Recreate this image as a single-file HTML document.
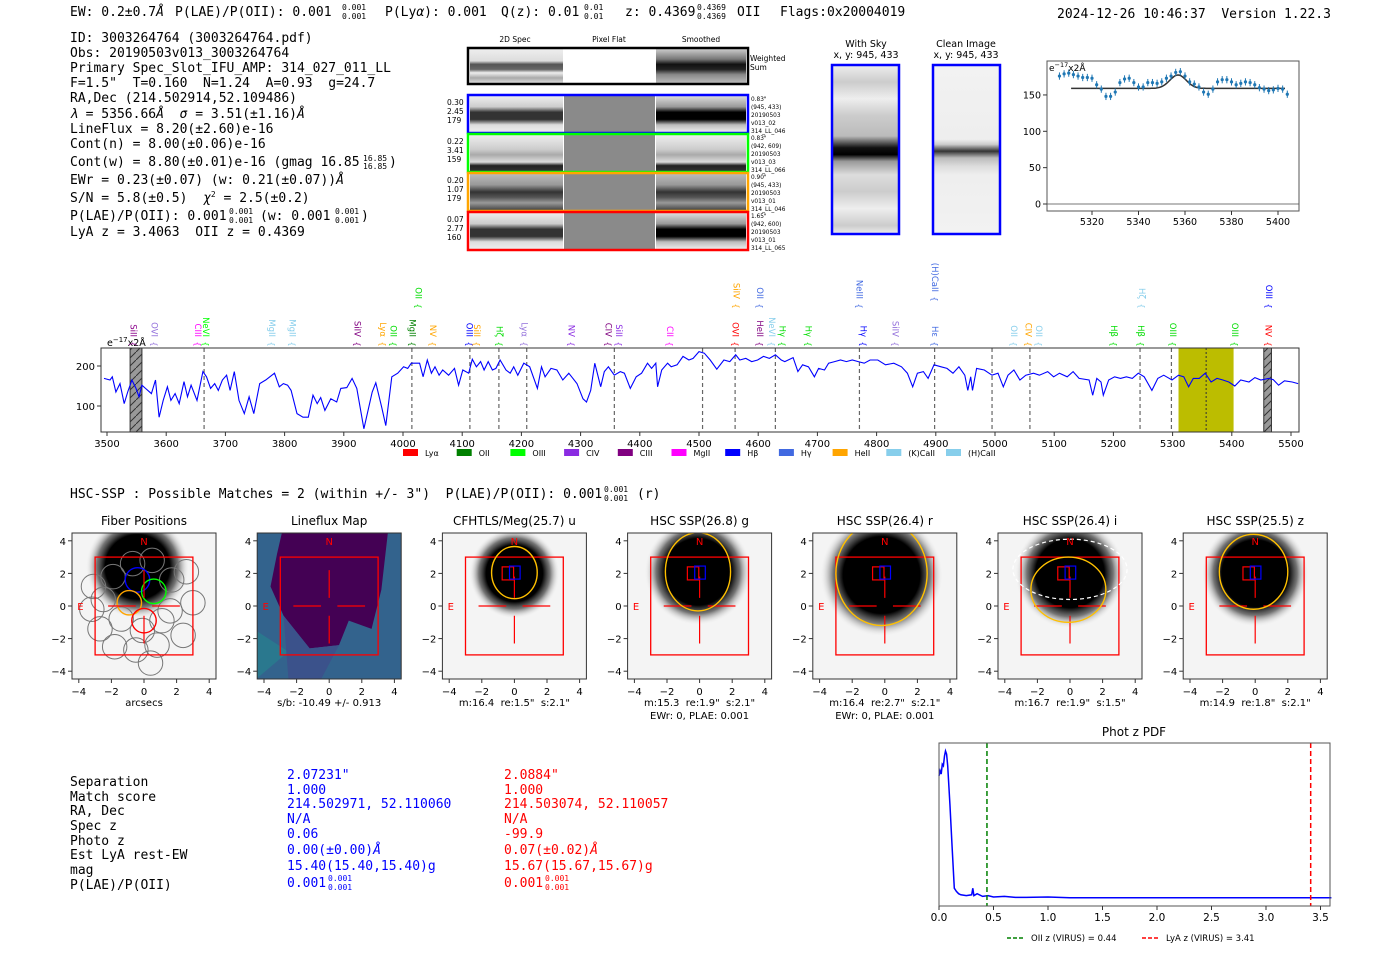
<!DOCTYPE html>
<html><head><meta charset="utf-8"><style>
html,body{margin:0;padding:0;background:#fff;}
svg{display:block;}
text{white-space:pre;}
.m{font-family:"DejaVu Sans Mono","Liberation Mono",monospace;font-size:13px;}
.s{font-family:"DejaVu Sans","Liberation Sans",sans-serif;}
</style></head><body>
<svg id="root" xml:space="preserve" width="1400" height="953" viewBox="0 0 1400 953" xmlns="http://www.w3.org/2000/svg">
<defs>
<radialGradient id="blob"><stop offset="0" stop-color="#000"/><stop offset="0.62" stop-color="#000"/><stop offset="0.78" stop-color="#555" stop-opacity="0.8"/><stop offset="1" stop-color="#fff" stop-opacity="0"/></radialGradient>
<linearGradient id="ws2d" x1="0" y1="0" x2="0" y2="1"><stop offset="0" stop-color="#eee"/><stop offset="0.35" stop-color="#ddd"/><stop offset="0.45" stop-color="#555"/><stop offset="0.6" stop-color="#666"/><stop offset="0.7" stop-color="#eee"/><stop offset="0.85" stop-color="#aaa"/><stop offset="1" stop-color="#ddd"/></linearGradient>
<linearGradient id="wssm" x1="0" y1="0" x2="0" y2="1"><stop offset="0" stop-color="#ccc"/><stop offset="0.3" stop-color="#777"/><stop offset="0.45" stop-color="#111"/><stop offset="0.6" stop-color="#222"/><stop offset="0.75" stop-color="#888"/><stop offset="1" stop-color="#bbb"/></linearGradient>
<linearGradient id="row2d" x1="0" y1="0" x2="0" y2="1"><stop offset="0" stop-color="#eee"/><stop offset="0.3" stop-color="#ccc"/><stop offset="0.45" stop-color="#333"/><stop offset="0.65" stop-color="#333"/><stop offset="0.8" stop-color="#ddd"/><stop offset="1" stop-color="#eee"/></linearGradient>
<linearGradient id="rowsm" x1="0" y1="0" x2="0" y2="1"><stop offset="0" stop-color="#ddd"/><stop offset="0.3" stop-color="#999"/><stop offset="0.45" stop-color="#000"/><stop offset="0.65" stop-color="#000"/><stop offset="0.8" stop-color="#bbb"/><stop offset="1" stop-color="#eee"/></linearGradient>
<linearGradient id="rowg" x1="0" y1="0" x2="0" y2="1"><stop offset="0" stop-color="#eee"/><stop offset="0.4" stop-color="#ccc"/><stop offset="0.55" stop-color="#aaa"/><stop offset="0.75" stop-color="#ddd"/><stop offset="0.85" stop-color="#222"/><stop offset="1" stop-color="#333"/></linearGradient>
<linearGradient id="rowo" x1="0" y1="0" x2="0" y2="1"><stop offset="0" stop-color="#bbb"/><stop offset="0.3" stop-color="#999"/><stop offset="0.5" stop-color="#333"/><stop offset="0.65" stop-color="#555"/><stop offset="0.8" stop-color="#999"/><stop offset="1" stop-color="#444"/></linearGradient>
<linearGradient id="sky" x1="0" y1="0" x2="0" y2="1"><stop offset="0" stop-color="#eee"/><stop offset="0.1" stop-color="#ccc"/><stop offset="0.2" stop-color="#eee"/><stop offset="0.3" stop-color="#ccc"/><stop offset="0.42" stop-color="#bbb"/><stop offset="0.49" stop-color="#111"/><stop offset="0.53" stop-color="#000"/><stop offset="0.57" stop-color="#999"/><stop offset="0.65" stop-color="#ddd"/><stop offset="0.75" stop-color="#ccc"/><stop offset="0.85" stop-color="#eee"/><stop offset="0.95" stop-color="#ccc"/><stop offset="1" stop-color="#eee"/></linearGradient>
<linearGradient id="clean" x1="0" y1="0" x2="0" y2="1"><stop offset="0" stop-color="#f2f2f2"/><stop offset="0.44" stop-color="#eee"/><stop offset="0.47" stop-color="#ccc"/><stop offset="0.51" stop-color="#333"/><stop offset="0.55" stop-color="#bbb"/><stop offset="0.6" stop-color="#ddd"/><stop offset="0.65" stop-color="#eee"/><stop offset="1" stop-color="#f2f2f2"/></linearGradient>
<pattern id="hatch" width="8" height="8" patternUnits="userSpaceOnUse"><rect width="8" height="8" fill="#999"/><path d="M0,8 L8,0" stroke="#333" stroke-width="1"/></pattern>
</defs>

<g class="m">
<text x="70" y="16">EW: 0.2±0.7<tspan font-style="italic">Å</tspan></text>
<text x="175" y="16">P(LAE)/P(OII): 0.001</text>
<text x="342" y="10" font-size="8">0.001</text>
<text x="342" y="19" font-size="8">0.001</text>
<text x="385" y="16">P(Ly<tspan font-style="italic">α</tspan>): 0.001</text>
<text x="501" y="16">Q(z): 0.01</text>
<text x="584" y="10" font-size="8">0.01</text>
<text x="584" y="19" font-size="8">0.01</text>
<text x="625" y="16">z: 0.4369</text>
<text x="697" y="10" font-size="8">0.4369</text>
<text x="697" y="19" font-size="8">0.4369</text>
<text x="737" y="16">OII</text>
<text x="780" y="16">Flags:0x20004019</text>
<text x="1057" y="18">2024-12-26 10:46:37  Version 1.22.3</text>
</g>

<g class="m">
<text x="70" y="42">ID: 3003264764 (3003264764.pdf)</text>
<text x="70" y="57">Obs: 20190503v013_3003264764</text>
<text x="70" y="72">Primary Spec_Slot_IFU_AMP: 314_027_011_LL</text>
<text x="70" y="87">F=1.5"  T=0.160  N=1.24  A=0.93  g=24.7</text>
<text x="70" y="102">RA,Dec (214.502914,52.109486)</text>
<text x="70" y="118"><tspan font-style="italic">λ</tspan> = 5356.66<tspan font-style="italic">Å</tspan>  <tspan font-style="italic">σ</tspan> = 3.51(±1.16)<tspan font-style="italic">Å</tspan></text>
<text x="70" y="133">LineFlux = 8.20(±2.60)e-16</text>
<text x="70" y="148">Cont(n) = 8.00(±0.06)e-16</text>
<text x="70" y="166">Cont(w) = 8.80(±0.01)e-16 (gmag 16.85</text>
<text x="363" y="161" font-size="8">16.85</text>
<text x="363" y="169" font-size="8">16.85</text>
<text x="389" y="166">)</text>
<text x="70" y="184">EWr = 0.23(±0.07) (w: 0.21(±0.07))<tspan font-style="italic">Å</tspan></text>
<text x="70" y="202">S/N = 5.8(±0.5)  <tspan font-style="italic">χ</tspan><tspan font-size="8" dy="-5">2</tspan><tspan dy="5"> = 2.5(±0.2)</tspan></text>
<text x="70" y="220">P(LAE)/P(OII): 0.001</text>
<text x="229" y="214" font-size="8">0.001</text>
<text x="229" y="223" font-size="8">0.001</text>
<text x="260" y="220">(w: 0.001</text>
<text x="335" y="214" font-size="8">0.001</text>
<text x="335" y="223" font-size="8">0.001</text>
<text x="361" y="220">)</text>
<text x="70" y="236">LyA z = 3.4063  OII z = 0.4369</text>
</g>

<g class="s">
<text x="515" y="42" font-size="7.5" text-anchor="middle">2D Spec</text>
<text x="609" y="42" font-size="7.5" text-anchor="middle">Pixel Flat</text>
<text x="701" y="42" font-size="7.5" text-anchor="middle">Smoothed</text>
<rect x="470" y="49" width="93" height="34" fill="url(#ws2d)"/>
<rect x="656" y="49" width="90" height="34" fill="url(#wssm)"/>
<rect x="468" y="48" width="280" height="36" fill="none" stroke="#000" stroke-width="2.5"/>
<text x="750" y="61" font-size="7.5">Weighted</text>
<text x="750" y="70" font-size="7.5">Sum</text>
</g>
<g id="cutrows" class="s"></g>

<g class="s">
<text x="866" y="47" font-size="9.5" text-anchor="middle">With Sky</text>
<text x="866" y="58" font-size="9.5" text-anchor="middle">x, y: 945, 433</text>
<rect x="832" y="65" width="67" height="169" fill="url(#sky)" stroke="#0000ff" stroke-width="2.5"/>
<text x="966" y="47" font-size="9.5" text-anchor="middle">Clean Image</text>
<text x="966" y="58" font-size="9.5" text-anchor="middle">x, y: 945, 433</text>
<rect x="933" y="65" width="67" height="169" fill="url(#clean)" stroke="#0000ff" stroke-width="2.5"/>
</g>

<g id="fitplot" class="s"></g>
<g id="spec" class="s"></g>

<g class="m">
<text x="70" y="498">HSC-SSP : Possible Matches = 2 (within +/- 3")  P(LAE)/P(OII): 0.001</text>
<text x="604" y="492" style="font-size:8px">0.001</text>
<text x="604" y="501" style="font-size:8px">0.001</text>
<text x="637" y="498">(r)</text>
</g>

<g id="cutouts" class="s"></g>

<g class="m" font-size="12.5">
<text x="70" y="786">Separation</text>
<text x="70" y="801">Match score</text>
<text x="70" y="815">RA, Dec</text>
<text x="70" y="830">Spec z</text>
<text x="70" y="845">Photo z</text>
<text x="70" y="859">Est LyA rest-EW</text>
<text x="70" y="874">mag</text>
<text x="70" y="889">P(LAE)/P(OII)</text>
<g fill="#0000ff">
<text x="287" y="779">2.07231"</text>
<text x="287" y="794">1.000</text>
<text x="287" y="808">214.502971, 52.110060</text>
<text x="287" y="823">N/A</text>
<text x="287" y="838">0.06</text>
<text x="287" y="854">0.00(±0.00)<tspan font-style="italic">Å</tspan></text>
<text x="287" y="870">15.40(15.40,15.40)g</text>
<text x="287" y="887">0.001</text>
<text x="328" y="881" font-size="8">0.001</text>
<text x="328" y="890" font-size="8">0.001</text>
</g>
<g fill="#ff0000">
<text x="504" y="779">2.0884"</text>
<text x="504" y="794">1.000</text>
<text x="504" y="808">214.503074, 52.110057</text>
<text x="504" y="823">N/A</text>
<text x="504" y="838">-99.9</text>
<text x="504" y="854">0.07(±0.02)<tspan font-style="italic">Å</tspan></text>
<text x="504" y="870">15.67(15.67,15.67)g</text>
<text x="504" y="887">0.001</text>
<text x="545" y="881" font-size="8">0.001</text>
<text x="545" y="890" font-size="8">0.001</text>
</g>
</g>

<g id="pdf" class="s"></g>
</svg>
<script>
const NS='http://www.w3.org/2000/svg';
function add(parent, tag, attrs, name, text){
  const el=document.createElementNS(NS,tag);
  for(const k in attrs) el.setAttribute(k,attrs[k]);
  
  
  if(text!==undefined) el.textContent=text;
  parent.appendChild(el); return el;
}

const specWave=[3495,3505,3509,3515,3522,3529,3535,3542,3549,3554,3559,3565,3575,3582,3588,3595,3602,3608,3615,3622,3630,3636,3642,3652,3662,3668,3675,3682,3688,3695,3702,3708,3715,3723,3732,3740,3748,3758,3768,3783,3791,3798,3805,3811,3821,3831,3840,3848,3855,3861,3868,3878,3888,3895,3905,3914,3922,3934,3948,3954,3964,3971,3981,3991,4001,4008,4014,4028,4034,4041,4048,4054,4061,4067,4077,4087,4094,4101,4111,4117,4124,4131,4137,4144,4151,4157,4164,4174,4181,4187,4194,4204,4214,4227,4234,4240,4250,4260,4270,4280,4294,4304,4310,4317,4324,4334,4340,4347,4357,4367,4374,4384,4394,4403,4413,4420,4427,4430,4437,4447,4453,4463,4473,4483,4490,4500,4509,4519,4530,4542,4552,4562,4569,4579,4589,4599,4609,4619,4629,4639,4645,4659,4667,4675,4685,4695,4702,4712,4719,4729,4739,4749,4759,4769,4779,4789,4802,4815,4829,4842,4852,4861,4869,4879,4887,4897,4909,4919,4929,4939,4949,4954,4959,4962,4969,4982,4995,5005,5014,5022,5032,5042,5052,5065,5075,5089,5099,5109,5122,5132,5142,5159,5165,5172,5179,5183,5192,5202,5212,5222,5232,5242,5252,5265,5275,5285,5299,5310,5319,5327,5335,5345,5355,5365,5375,5385,5395,5405,5415,5429,5439,5449,5462,5470,5479,5489,5502,5512];
const specFlux=[169,165,173,135,156,106,135,165,144,123,152,144,131,165,72,114,148,114,131,106,161,123,152,114,186,173,144,156,139,165,177,139,186,114,81,123,81,156,165,182,148,156,152,139,81,72,72,127,106,121,89,118,110,144,146,169,144,43,135,158,97,51,173,182,198,194,207,207,173,215,182,198,177,190,177,194,152,190,182,217,198,211,190,211,190,194,215,190,182,198,177,207,198,144,198,173,194,190,165,182,156,118,110,139,207,148,186,198,177,186,182,144,173,182,207,194,207,148,190,207,198,203,224,215,219,236,232,215,192,215,211,228,215,219,211,215,224,219,228,215,211,221,186,203,198,173,194,190,207,211,215,211,215,211,207,215,215,203,207,198,182,148,182,186,169,203,198,194,182,198,177,139,173,139,194,190,177,182,148,177,190,165,177,182,177,186,173,182,173,186,169,165,127,169,160,127,165,173,169,173,169,182,173,139,169,177,165,177,173,148,169,169,182,160,169,165,160,150,165,160,171,165,169,166,152,163,160,156];
const specXTicks=[3500,3600,3700,3800,3900,4000,4100,4200,4300,4400,4500,4600,4700,4800,4900,5000,5100,5200,5300,5400,5500];
const specYTicks=[100,200];
const specDashed=[3664,4015,4113,4162,4209,4357,4506,4561,4629,4771,4898,4995,5059,5245,5298];
const specCenter=[5356.66];
const specBand=[5310,5403];
const specMasks=[[3539,3559],[5454,5467]];
const lineLabels=[
 [3545,'SiII','#8b008b',0],[3580,'OVI','#9370db',0],[3654,'CIII','#ff00ff',0],[3667,'NeVI','#00ff00',0],
 [3779,'MgII','#87ceeb',0],[3813,'MgII','#87ceeb',0],[3923,'SiIV','#800080',0],[3966,'Lyα','#ffa500',0],
 [3984,'OII','#00dd00',0],[4016,'MgII','#008000',0],[4051,'NV','#ffa500',0],[4026,'OII','#00dd00',1],
 [4112,'OIII','#0000ff',0],[4125,'SiII','#ffa500',0],[4163,'Hζ','#00dd00',0],[4205,'Lyα','#9370db',0],
 [4285,'NV','#8a2be2',0],[4347,'CIV','#800080',0],[4365,'SiII','#8a2be2',0],[4451,'CII','#ff00ff',0],
 [4562,'OVI','#ff0000',0],[4563,'SiIV','#ffa500',1],[4603,'HeII','#800080',0],[4603,'OII','#4169e1',1],
 [4623,'NeVI','#87ceeb',0],[4641,'Hγ','#00dd00',0],[4685,'Hγ','#00dd00',0],[4778,'Hγ','#0000ff',0],
 [4771,'NeIII','#4169e1',1],[4832,'SiIV','#9370db',0],[4899,'Hε','#4169e1',0],[4899,'(H)CaII','#4169e1',2],
 [5032,'OII','#87ceeb',0],[5057,'CIV','#ffa500',0],[5074,'OII','#87ceeb',0],[5201,'Hβ','#00dd00',0],
 [5247,'Hβ','#00dd00',0],[5248,'Hζ','#87ceeb',1],[5301,'OIII','#00dd00',0],[5405,'OIII','#00dd00',0],
 [5462,'NV','#ff0000',0],[5463,'OIII','#0000ff',1]];
const legendNames=['Lyα','OII','OIII','CIV','CIII','MgII','Hβ','Hγ','HeII','(K)CaII','(H)CaII'];
const legendColors=['#ff0000','#008000','#00ff00','#8a2be2','#800080','#ff00ff','#0000ff','#4169e1','#ffa500','#87ceeb','#87ceeb'];

function xS(w){return 107+(w-3500)*0.592;}
function yS(v){return 366+(200-v)*0.4;}
(function(){
 const g=document.getElementById('spec');
 const L=101,R=1299,T=348,B=432;
 add(g,'rect',{x:xS(specBand[0]),y:T,width:xS(specBand[1])-xS(specBand[0]),height:B-T,fill:'#bcbd00'},'emission-line-band');
 specMasks.forEach(m=>{add(g,'rect',{x:xS(m[0]),y:T,width:xS(m[1])-xS(m[0]),height:B-T,fill:'url(#hatch)',stroke:'#333','stroke-width':1},'masked-region');});
 specDashed.forEach(w=>{add(g,'line',{x1:xS(w),x2:xS(w),y1:T,y2:B,stroke:'#666','stroke-width':1.2,'stroke-dasharray':'4,3'},'line-marker');});
 specCenter.forEach(w=>{add(g,'line',{x1:xS(w),x2:xS(w),y1:T,y2:B,stroke:'#333','stroke-width':1,'stroke-dasharray':'2,2'},'line-center-marker');});
 let d='';
 for(let i=0;i<specWave.length;i++){d+=(i?'L':'M')+xS(specWave[i]).toFixed(1)+','+yS(specFlux[i]).toFixed(1);}
 add(g,'path',{d:d,fill:'none',stroke:'#0000ff','stroke-width':1.1},'spectrum-line');
 add(g,'rect',{x:L,y:T,width:R-L,height:B-T,fill:'none',stroke:'#333','stroke-width':1},'spectrum-frame');
 specXTicks.forEach(t=>{
  add(g,'line',{x1:xS(t),x2:xS(t),y1:B,y2:B+4,stroke:'#333'},'x-tick');
  add(g,'text',{x:xS(t),y:B+15,'font-size':10,'text-anchor':'middle'},'x-tick-label',String(t));
 });
 specYTicks.forEach(t=>{
  add(g,'line',{x1:L-4,x2:L,y1:yS(t),y2:yS(t),stroke:'#333'},'y-tick');
  add(g,'text',{x:L-6,y:yS(t)+4,'font-size':10,'text-anchor':'end'},'y-tick-label',String(t));
 });
 const u=add(g,'text',{x:107,y:346,'font-size':9.5},'y-unit-label','e');
 add(u,'tspan',{dy:-4,'font-size':7},'unit-exp','−17');
 add(u,'tspan',{dy:4},'unit-rest','x2Å');
 lineLabels.forEach(l=>{
  const x=xS(l[0]);
  const yEnd=[337,299,292][l[3]];
  add(g,'text',{x:x,y:yEnd,'font-size':8.5,fill:l[2],'text-anchor':'end',transform:'rotate(90 '+x+' '+yEnd+')',dy:3},'line-id-label',l[1]);
  const by=yEnd+7;
  add(g,'text',{x:x,y:by,'font-size':8,fill:l[2],'text-anchor':'middle',transform:'rotate(90 '+x+' '+by+')',dy:3},'line-id-brace','{');
 });
 legendNames.forEach((n,i)=>{
  const x=403+i*53.7+(i>=10?6:0);
  add(g,'rect',{x:x,y:449,width:15,height:7,fill:legendColors[i]},'legend-swatch');
  add(g,'text',{x:x+22,y:456,'font-size':8},'legend-label',n);
 });
})();

const fitWave=[5306,5308,5310,5312,5314,5316,5318,5320,5322,5324,5326,5328,5330,5332,5334,5336,5338,5340,5342,5344,5346,5348,5350,5352,5354,5356,5358,5360,5362,5364,5366,5368,5370,5372,5374,5376,5378,5380,5382,5384,5386,5388,5390,5392,5394,5396,5398,5400,5402,5404];
const fitFlux=[176,179,180,178,176,174,174,173,164,158,148,148,154,167,172,173,167,161,161,167,167,166,168,173,176,181,182,176,168,165,161,154,151,158,168,171,171,168,164,166,168,167,164,160,158,156,157,159,158,151];
const fitErr=[5,5,5,5,5,5,5,5,5,5,5,5,5,5,5,5,5,5,5,5,5,5,5,5,5,5,5,5,5,5,5,5,5,5,5,5,5,5,5,5,5,5,5,5,5,5,5,5,5,5];
const fitModel=[5311,5403,159,18.5,5357,3.51];
const fitXTicks=[5320,5340,5360,5380,5400];
const fitYTicks=[0,50,100,150];
function xT(w){return 1092+(w-5320)*2.325;}
function yT(v){return 204-v*0.727;}
(function(){
 const g=document.getElementById('fitplot');
 const L=1047,R=1299,T=61,B=211;
 add(g,'line',{x1:L,x2:R,y1:yT(0),y2:yT(0),stroke:'#777','stroke-width':1},'zero-line');
 let d='';
 for(let w=fitModel[0];w<=fitModel[1];w+=0.5){
  const v=fitModel[2]+fitModel[3]*Math.exp(-0.5*Math.pow((w-fitModel[4])/fitModel[5],2));
  d+=(d?'L':'M')+xT(w).toFixed(1)+','+yT(v).toFixed(1);
 }
 add(g,'path',{d:d,fill:'none',stroke:'#333','stroke-width':1.5},'gaussian-fit');
 fitWave.forEach((w,i)=>{
  add(g,'line',{x1:xT(w),x2:xT(w),y1:yT(fitFlux[i]-fitErr[i]),y2:yT(fitFlux[i]+fitErr[i]),stroke:'#1f77b4','stroke-width':1},'data-errorbar');
  add(g,'circle',{cx:xT(w),cy:yT(fitFlux[i]),r:1.6,fill:'#1f77b4'},'data-point');
 });
 add(g,'rect',{x:L,y:T,width:R-L,height:B-T,fill:'none',stroke:'#555','stroke-width':1},'fit-frame');
 fitXTicks.forEach(t=>{
  add(g,'line',{x1:xT(t),x2:xT(t),y1:B,y2:B+4,stroke:'#333'},'x-tick');
  add(g,'text',{x:xT(t),y:B+14,'font-size':9.5,'text-anchor':'middle'},'x-tick-label',String(t));
 });
 fitYTicks.forEach(t=>{
  add(g,'line',{x1:L-4,x2:L,y1:yT(t),y2:yT(t),stroke:'#333'},'y-tick');
  add(g,'text',{x:L-6,y:yT(t)+3.5,'font-size':9.5,'text-anchor':'end'},'y-tick-label',String(t));
 });
 const u=add(g,'text',{x:1049,y:71,'font-size':9},'y-unit-label','e');
 add(u,'tspan',{dy:-4,'font-size':6.5},'unit-exp','−17');
 add(u,'tspan',{dy:4},'unit-rest','x2Å');
})();

const rowColors=['#0000ff','#00ff00','#ffa500','#ff0000'];
const rowLeft=[['0.30','2.45','179'],['0.22','3.41','159'],['0.20','1.07','179'],['0.07','2.77','160']];
const rowRight=[['0.83"','(945, 433)','20190503','v013_02','314_LL_046'],['0.83"','(942, 609)','20190503','v013_03','314_LL_066'],['0.90"','(945, 433)','20190503','v013_01','314_LL_046'],['1.65"','(942, 600)','20190503','v013_01','314_LL_065']];
(function(){
 const g=document.getElementById('cutrows');
 const fills2d=['url(#row2d)','url(#rowg)','url(#rowo)','url(#row2d)'];
 const fillsSm=['url(#rowsm)','url(#rowg)','url(#rowo)','url(#rowsm)'];
 for(let i=0;i<4;i++){
  const y=96+i*39;
  add(g,'rect',{x:470,y:y,width:93,height:36,fill:fills2d[i]},'cutout-2d');
  add(g,'rect',{x:564,y:y,width:91,height:36,fill:'#8a8a8a'},'cutout-pixelflat');
  add(g,'rect',{x:656,y:y,width:90,height:36,fill:fillsSm[i]},'cutout-smoothed');
  add(g,'rect',{x:468,y:y-1,width:280,height:38,fill:'none',stroke:rowColors[i],'stroke-width':2.5},'cutout-row-frame');
  rowLeft[i].forEach((t,k)=>{add(g,'text',{x:447,y:y+9+k*9,'font-size':7.5},'row-stat',t);});
  rowRight[i].forEach((t,k)=>{add(g,'text',{x:751,y:y+5+k*8,'font-size':5.8},'row-info',t);});
 }
})();

const panelTitles=['Fiber Positions','Lineflux Map','CFHTLS/Meg(25.7) u','HSC SSP(26.8) g','HSC SSP(26.4) r','HSC SSP(26.4) i','HSC SSP(25.5) z'];
const panelSub1=['arcsecs','s/b: -10.49 +/- 0.913','m:16.4  re:1.5"  s:2.1"','m:15.3  re:1.9"  s:2.1"','m:16.4  re:2.7"  s:2.1"','m:16.7  re:1.9"  s:1.5"','m:14.9  re:1.8"  s:2.1"'];
const panelSub2=['','','','EWr: 0, PLAE: 0.001','EWr: 0, PLAE: 0.001','',''];
const blobX=[-0.4,0,0,-0.1,-0.2,0,0];
const blobY=[2.4,0,2,2.1,1.9,2,2];
const blobR=[3.2,0,2.8,3.3,3.8,3.4,3.3];
const ellX=[0,0,0,-0.1,-0.2,-0.1,-0.1];
const ellY=[0,0,2.05,2.1,2.0,1.0,2.1];
const ellRX=[0,0,1.4,2.0,2.8,2.3,2.1];
const ellRY=[0,0,1.6,2.4,3.2,2.0,2.3];
const fiberColoredX=[-0.4,0.6,-0.9,0.0];
const fiberColoredY=[1.6,0.9,0.2,-0.9];
const fiberGrayX=[-3.1,-1.9,-0.7,0.5,1.7,2.6,-2.5,1.6,3.0,-2.7,-1.4,-0.1,1.1,2.4,-1.8,-0.5,0.8,0.4,-3.2];
const fiberGrayY=[1.2,1.8,2.6,2.8,1.6,2.1,0.4,-0.3,0.2,-1.4,-0.8,-1.5,-0.9,-1.8,-2.5,-2.7,-2.4,-3.5,-0.2];
const pTicks=[-4,-2,0,2,4];
(function(){
 const g=document.getElementById('cutouts');
 const s=16.3, cy=606;
 for(let p=0;p<7;p++){
  const Lp=72+p*185.2, cx=Lp+72;
  const X=v=>cx+v*s, Y=v=>cy-v*s;
  const pg=add(g,'g',{},'cutout-panel');
  const clipId='clip'+p;
  const cp=add(pg,'clipPath',{id:clipId},'clip');
  add(cp,'rect',{x:Lp,y:533,width:144,height:146},'clip-rect');
  const ig=add(pg,'g',{'clip-path':'url(#'+clipId+')'},'cutout-image');
  if(p===1){
   add(ig,'rect',{x:Lp,y:533,width:144,height:146,fill:'#33638d'},'flux-map-bg');
   add(ig,'polygon',{points:[[-4.5,-4.5],[-2.5,-2.8],[-4.5,-1.5]].map(q=>X(q[0])+','+Y(q[1])).join(' '),fill:'#2a788e'},'flux-map-teal');
   add(ig,'polygon',{points:[[-2.9,4.5],[3.6,4.5],[3.2,1.0],[2.6,-1.4],[1.2,-0.9],[0.6,-2.4],[-1.2,-2.6],[-2.8,-0.6],[-3.6,1.2],[-3.2,3.2]].map(q=>X(q[0])+','+Y(q[1])).join(' '),fill:'#440154'},'flux-map-low');
   add(ig,'polygon',{points:[[-2.8,-0.6],[-1.2,-2.6],[0.6,-2.4],[-0.5,-4.5],[-2.5,-4.5]].map(q=>X(q[0])+','+Y(q[1])).join(' '),fill:'#3b528b'},'flux-map-mid');
  } else {
   add(ig,'rect',{x:Lp,y:533,width:144,height:146,fill:'#f4f4f4'},'image-bg');
   add(ig,'circle',{cx:X(blobX[p]),cy:Y(blobY[p]),r:blobR[p]*s,fill:'url(#blob)'},'source-blob');
  }
  if(p===0){
   fiberGrayX.forEach((fx,i)=>{add(ig,'circle',{cx:X(fx),cy:Y(fiberGrayY[i]),r:0.75*s,fill:'none',stroke:'#777','stroke-width':1},'fiber-circle');});
   fiberColoredX.forEach((fx,i)=>{add(ig,'circle',{cx:X(fx),cy:Y(fiberColoredY[i]),r:0.75*s,fill:'none',stroke:rowColors[i],'stroke-width':1.4},'fiber-circle-selected');});
  }
  add(ig,'rect',{x:X(-3),y:Y(3),width:6*s,height:6*s,fill:'none',stroke:'#ff0000','stroke-width':1.3},'aperture-box');
  const cross=[[-2.2,0,-0.5,0],[0.5,0,2.2,0],[0,-0.6,0,-2.3]];
  cross.push(p>=2?[0,0.5,0,1.8]:[0,0.5,0,2.2]);
  cross.forEach(c=>{add(ig,'line',{x1:X(c[0]),y1:Y(c[1]),x2:X(c[2]),y2:Y(c[3]),stroke:'#ff0000','stroke-width':1.2},'crosshair');});
  if(p>=2){
   add(ig,'rect',{x:X(-0.75),y:Y(2.4),width:0.7*s,height:0.8*s,fill:'none',stroke:'#ff0000','stroke-width':1.2},'match-box-red');
   add(ig,'rect',{x:X(-0.3),y:Y(2.45),width:0.65*s,height:0.8*s,fill:'none',stroke:'#0000ff','stroke-width':1.2},'match-box-blue');
   add(ig,'ellipse',{cx:X(ellX[p]),cy:Y(ellY[p]),rx:ellRX[p]*s,ry:ellRY[p]*s,fill:'none',stroke:'#ffc000','stroke-width':1.4},'source-ellipse');
  }
  if(p===5){add(ig,'ellipse',{cx:X(0),cy:Y(2.25),rx:3.5*s,ry:1.85*s,fill:'none',stroke:'#fff','stroke-width':1.2,'stroke-dasharray':'4,3'},'catalog-ellipse');}
  add(pg,'text',{x:X(0),y:Y(4)+4,'font-size':10,fill:'#ff0000','text-anchor':'middle'},'north-label','N');
  add(pg,'text',{x:X(-3.9),y:Y(0)+4,'font-size':10,fill:'#ff0000','text-anchor':'middle'},'east-label','E');
  add(pg,'rect',{x:Lp,y:533,width:144,height:146,fill:'none',stroke:'#333','stroke-width':1},'panel-frame');
  pTicks.forEach(t=>{
   add(pg,'line',{x1:X(t),x2:X(t),y1:679,y2:683,stroke:'#333'},'x-tick');
   add(pg,'text',{x:X(t),y:695,'font-size':10,'text-anchor':'middle'},'x-tick-label',t<0?'−'+(-t):String(t));
   add(pg,'line',{x1:Lp-4,x2:Lp,y1:Y(t),y2:Y(t),stroke:'#333'},'y-tick');
   add(pg,'text',{x:Lp-6,y:Y(t)+4,'font-size':10,'text-anchor':'end'},'y-tick-label',t<0?'−'+(-t):String(t));
  });
  add(pg,'text',{x:cx,y:525,'font-size':12,'text-anchor':'middle'},'panel-title',panelTitles[p]);
  add(pg,'text',{x:cx,y:706,'font-size':10,'text-anchor':'middle'},'panel-subtitle',panelSub1[p]);
  if(panelSub2[p]) add(pg,'text',{x:cx,y:719,'font-size':10,'text-anchor':'middle'},'panel-subtitle-2',panelSub2[p]);
 }
})();

const pdfZ=[0,0.01,0.02,0.03,0.04,0.05,0.06,0.07,0.08,0.10,0.12,0.14,0.16,0.18,0.20,0.25,0.30,0.31,0.32,0.35,0.40,0.45,0.50,0.60,0.70,0.80,1.0,1.2,1.5,2.0,3.0,3.6];
const pdfP=[0.831,0.865,0.843,0.910,0.899,0.966,1.0,0.978,0.899,0.640,0.348,0.067,0.045,0.029,0.022,0.016,0.022,0.067,0.016,0.029,0.011,0.016,0.007,0.011,0.004,0.004,0.007,0.002,0.002,0.002,0.002,0.002];
const pdfXTicks=[0,0.5,1.0,1.5,2.0,2.5,3.0,3.5];
const pdfOIIz=[0.44];
const pdfLyaz=[3.41];
function xP(z){return 939+z*109;}
function yP(v){return 898-v*147;}
(function(){
 const g=document.getElementById('pdf');
 const L=939,R=1330,T=743,B=906;
 add(g,'text',{x:1134,y:736,'font-size':12,'text-anchor':'middle'},'pdf-title','Phot z PDF');
 let d='';
 pdfZ.forEach((z,i)=>{d+=(i?'L':'M')+xP(z).toFixed(1)+','+yP(pdfP[i]).toFixed(1);});
 add(g,'path',{d:d,fill:'none',stroke:'#0000ff','stroke-width':1.5},'pdf-curve');
 pdfOIIz.forEach(z=>add(g,'line',{x1:xP(z),x2:xP(z),y1:T,y2:B,stroke:'#008000','stroke-width':1.5,'stroke-dasharray':'5,3'},'oii-z-marker'));
 pdfLyaz.forEach(z=>add(g,'line',{x1:xP(z),x2:xP(z),y1:T,y2:B,stroke:'#ff0000','stroke-width':1.5,'stroke-dasharray':'5,3'},'lya-z-marker'));
 add(g,'rect',{x:L,y:T,width:R-L,height:B-T,fill:'none',stroke:'#555','stroke-width':1},'pdf-frame');
 pdfXTicks.forEach(t=>{
  add(g,'line',{x1:xP(t),x2:xP(t),y1:B,y2:B+4,stroke:'#333'},'x-tick');
  add(g,'text',{x:xP(t),y:B+15,'font-size':10.5,'text-anchor':'middle'},'x-tick-label',t.toFixed(1));
 });
 add(g,'line',{x1:1007,x2:1025,y1:938,y2:938,stroke:'#008000','stroke-width':1.5,'stroke-dasharray':'4,2'},'legend-oii-swatch');
 add(g,'text',{x:1031,y:941,'font-size':8.5},'legend-oii-label','OII z (VIRUS) = 0.44');
 add(g,'line',{x1:1142,x2:1160,y1:938,y2:938,stroke:'#ff0000','stroke-width':1.5,'stroke-dasharray':'4,2'},'legend-lya-swatch');
 add(g,'text',{x:1166,y:941,'font-size':8.5},'legend-lya-label','LyA z (VIRUS) = 3.41');
})();
</script>
</body></html>
